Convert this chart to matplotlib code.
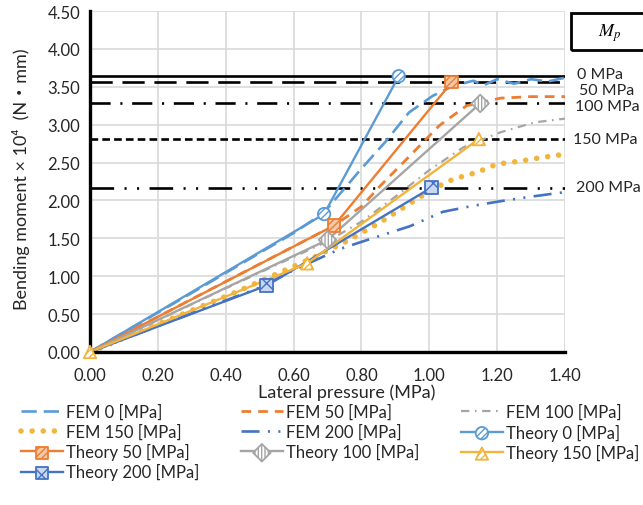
import matplotlib
matplotlib.use("Agg")
import matplotlib.pyplot as plt
from matplotlib.patches import Rectangle
from matplotlib.legend_handler import HandlerTuple

plt.rcParams['font.family'] = ['Lato', 'Noto Sans CJK JP', 'DejaVu Sans']
plt.rcParams['mathtext.fontset'] = 'stix'
plt.rcParams['lines.scale_dashes'] = False
plt.rcParams['hatch.linewidth'] = 1.0

# ---------------- data ----------------
fem0_x = [0, 0.30, 0.60, 0.69, 0.72, 0.80, 0.87, 0.94, 1.01, 1.07, 1.13, 1.16, 1.20, 1.25, 1.30, 1.35, 1.40]
fem0_y = [0, 0.78, 1.57, 1.84, 2.00, 2.42, 2.77, 3.16, 3.38, 3.51, 3.58, 3.52, 3.60, 3.54, 3.60, 3.57, 3.62]

fem50_x = [0, 0.40, 0.72, 0.80, 0.855, 0.943, 1.03, 1.11, 1.21, 1.30, 1.40]
fem50_y = [0, 0.93, 1.67, 1.92, 2.19, 2.59, 2.99, 3.25, 3.35, 3.37, 3.37]

fem100_x = [0, 0.40, 0.70, 0.80, 0.90, 1.00, 1.10, 1.21, 1.31, 1.40]
fem100_y = [0, 0.84, 1.46, 1.72, 2.05, 2.40, 2.70, 2.90, 3.03, 3.08]

fem150_x = [0, 0.42, 0.55, 0.67, 0.76, 0.855, 0.95, 1.01, 1.07, 1.14, 1.20, 1.27, 1.335, 1.40]
fem150_y = [0, 0.77, 1.03, 1.27, 1.47, 1.71, 1.98, 2.15, 2.28, 2.37, 2.48, 2.52, 2.57, 2.61]

fem200_x = [0, 0.50, 0.60, 0.737, 0.825, 0.943, 1.04, 1.13, 1.21, 1.30, 1.40]
fem200_y = [0, 0.85, 1.08, 1.36, 1.49, 1.66, 1.85, 1.93, 1.99, 2.05, 2.11]

th0_x = [0, 0.69, 0.91]
th0_y = [0, 1.82, 3.64]
th50_x = [0, 0.72, 1.066]
th50_y = [0, 1.67, 3.56]
th100_x = [0, 0.70, 1.15]
th100_y = [0, 1.48, 3.28]
th150_x = [0, 0.64, 1.146]
th150_y = [0, 1.17, 2.81]
th200_x = [0, 0.52, 1.007]
th200_y = [0, 0.875, 2.17]

mp_values = [3.64, 3.56, 3.28, 2.81, 2.17]
mp_labels = ['0 MPa', '50 MPa', '100 MPa', '150 MPa', '200 MPa']

xticks = [0, 0.2, 0.4, 0.6, 0.8, 1.0, 1.2, 1.4]
yticks = [0, 0.5, 1.0, 1.5, 2.0, 2.5, 3.0, 3.5, 4.0, 4.5]

# ---------------- styles ----------------
c_blue = '#5B9BD5'
c_orange = '#ED7D31'
c_gray = '#A5A5A5'
c_gold = '#F2B43A'
c_dblue = '#4472C4'
txt = '#262626'

fig = plt.figure(figsize=(6.43, 5.06), dpi=100)
ax = fig.add_axes([90/643, 1-353/506, 475/643, 341/506])

ax.set_xlim(0, 1.40)
ax.set_ylim(0, 4.50)
ax.set_xticks(xticks)
ax.set_yticks(yticks)
ax.set_xticklabels([f'{v:.2f}' for v in xticks])
ax.set_yticklabels([f'{v:.2f}' for v in yticks])
ax.tick_params(length=0, labelsize=12, colors=txt)
ax.tick_params(axis='x', pad=11)
ax.tick_params(axis='y', pad=7)
ax.grid(True, color='#D9D9D9', lw=1.2)
ax.set_axisbelow(True)
for s in ['top', 'right']:
    ax.spines[s].set_visible(False)
for s in ['left', 'bottom']:
    ax.spines[s].set_linewidth(2.4)
    ax.spines[s].set_color('black')
    ax.spines[s].set_zorder(5)

# Mp lines
mp_dashes = [None, (16, 7), (14.5, 7, 1.5, 7), (5.5, 3), (17, 7.5, 1.5, 7.5, 1.5, 7.5)]
for v, d in zip(mp_values, mp_dashes):
    if d is None:
        ax.axhline(v, color='black', lw=1.9, zorder=2)
    else:
        ax.axhline(v, color='black', lw=1.9, dashes=d, zorder=2)

# FEM lines
h_fem0, = ax.plot(fem0_x, fem0_y, color=c_blue, lw=1.9, dashes=(11, 5), zorder=3)
h_fem50, = ax.plot(fem50_x, fem50_y, color=c_orange, lw=2.0, dashes=(7, 5), zorder=3)
h_fem100, = ax.plot(fem100_x, fem100_y, color=c_gray, lw=1.6, dashes=(6, 4, 1.2, 4), zorder=3)
h_fem150, = ax.plot(fem150_x, fem150_y, color=c_gold, lw=4.0, dashes=(0.01, 8), dash_capstyle='round', zorder=3)
h_fem200, = ax.plot(fem200_x, fem200_y, color=c_dblue, lw=1.9, dashes=(13, 6, 1.5, 6, 1.5, 6), zorder=3)

# Theory lines with hatched markers
def theory(x, y, color, marker, hatch, face, z, start):
    ln, = ax.plot(x, y, color=color, lw=1.7, zorder=4)
    sc = ax.scatter(x[start:], y[start:], s=80, marker=marker, facecolors=face, edgecolors=color,
                    linewidths=1.3, hatch=hatch, zorder=z, clip_on=False)
    return (ln, sc)

h_th0 = theory(th0_x, th0_y, c_blue, 'o', '/////', 'white', 6, 1)
h_th50 = theory(th50_x, th50_y, c_orange, 's', '/////', '#F8C9A8', 6, 1)
h_th100 = theory(th100_x, th100_y, c_gray, 'D', '|||||', 'white', 6, 1)
h_th200 = theory(th200_x, th200_y, c_dblue, 's', 'xx', '#C9D7F0', 6, 1)
h_th150 = theory(th150_x, th150_y, c_gold, '^', '/////', 'white', 7, 0)

# Mp labels
label_y_px = [75, 91, 107, 140, 188]
label_x_px = [577, 579, 575, 573, 576]
for t, xp, yp in zip(mp_labels, label_x_px, label_y_px):
    fig.text(xp/643, 1-yp/506, t, fontsize=11.5, va='center', ha='left', color=txt)

fig.patches.append(Rectangle((571/643, 1-51/506), 80/643, 37/506, transform=fig.transFigure,
                             fill=False, edgecolor='black', lw=2.0))
fig.text(610/643, 1-33/506, r'$M_p$', fontsize=13, ha='center', va='center')

ax.set_xlabel('Lateral pressure (MPa)', fontsize=13, color=txt)
ax.xaxis.set_label_coords((347-90)/475, -0.091)
ax.set_ylabel('Bending moment × 10⁴  (N・mm)', fontsize=13, color=txt)
ax.yaxis.set_label_coords(-0.127, 0.51)

handles = [h_fem0, h_fem150, h_th50, h_th200,
           h_fem50, h_fem200, h_th100,
           h_fem100, h_th0, h_th150]
labels = ['FEM 0 [MPa]', 'FEM 150 [MPa]', 'Theory 50 [MPa]', 'Theory 200 [MPa]',
          'FEM 50 [MPa]', 'FEM 200 [MPa]', 'Theory 100 [MPa]',
          'FEM 100 [MPa]', 'Theory 0 [MPa]', 'Theory 150 [MPa]']
leg = fig.legend(handles, labels, loc='upper left', bbox_to_anchor=(6/643, 1-390/506),
                 ncol=3, frameon=False, fontsize=12, handlelength=2.5, handletextpad=0.2,
                 columnspacing=2.5, labelspacing=0.2, scatterpoints=1,
                 handler_map={tuple: HandlerTuple(ndivide=1)}, labelcolor=txt)

fig.savefig('out.png', dpi=100)
